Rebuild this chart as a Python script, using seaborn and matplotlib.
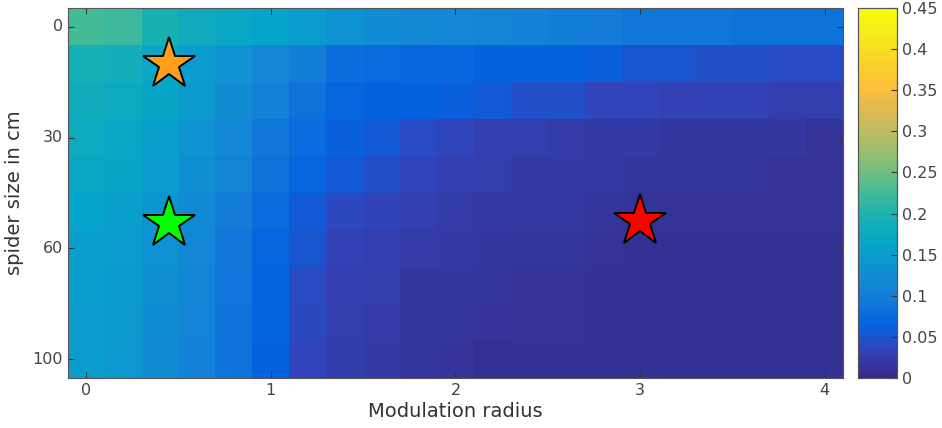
import matplotlib
matplotlib.use("Agg")
import matplotlib.pyplot as plt
from matplotlib.colors import LinearSegmentedColormap
import numpy as np
import pandas as pd
import seaborn as sns

plt.rcParams['font.family'] = ['DejaVu Sans']

# Data
radius = [0.0, 0.2, 0.4, 0.6, 0.8, 1.0, 1.2, 1.4, 1.6, 1.8, 2.0,
          2.2, 2.4, 2.6, 2.8, 3.0, 3.2, 3.4, 3.6, 3.8, 4.0]
sizes = [0, 10, 20, 30, 40, 50, 60, 70, 80, 100]
radius_ticks = [0, 1, 2, 3, 4]
size_ticks = [0, 30, 60, 100]

err = [
    [0.225, 0.22, 0.195, 0.18, 0.17, 0.16, 0.15, 0.135, 0.125, 0.12, 0.115, 0.11, 0.105, 0.10, 0.095, 0.09, 0.09, 0.09, 0.085, 0.085, 0.085],
    [0.19, 0.185, 0.17, 0.15, 0.135, 0.115, 0.10, 0.08, 0.075, 0.07, 0.07, 0.065, 0.065, 0.065, 0.06, 0.05, 0.05, 0.045, 0.045, 0.04, 0.04],
    [0.18, 0.175, 0.165, 0.145, 0.125, 0.105, 0.085, 0.07, 0.065, 0.065, 0.06, 0.055, 0.045, 0.045, 0.035, 0.035, 0.03, 0.03, 0.03, 0.025, 0.025],
    [0.175, 0.17, 0.155, 0.135, 0.115, 0.09, 0.075, 0.06, 0.055, 0.04, 0.035, 0.028, 0.028, 0.022, 0.02, 0.02, 0.016, 0.016, 0.016, 0.016, 0.012],
    [0.17, 0.165, 0.15, 0.13, 0.11, 0.085, 0.07, 0.055, 0.045, 0.035, 0.028, 0.025, 0.02, 0.02, 0.018, 0.015, 0.015, 0.015, 0.015, 0.012, 0.012],
    [0.16, 0.155, 0.14, 0.12, 0.095, 0.075, 0.055, 0.038, 0.032, 0.028, 0.022, 0.018, 0.018, 0.018, 0.015, 0.012, 0.012, 0.012, 0.012, 0.012, 0.012],
    [0.155, 0.15, 0.135, 0.115, 0.09, 0.07, 0.05, 0.03, 0.028, 0.022, 0.02, 0.016, 0.015, 0.015, 0.012, 0.01, 0.01, 0.01, 0.01, 0.01, 0.01],
    [0.152, 0.147, 0.13, 0.11, 0.088, 0.068, 0.04, 0.027, 0.025, 0.016, 0.016, 0.015, 0.012, 0.012, 0.01, 0.01, 0.01, 0.01, 0.01, 0.01, 0.01],
    [0.15, 0.145, 0.128, 0.108, 0.086, 0.066, 0.037, 0.026, 0.022, 0.016, 0.015, 0.014, 0.012, 0.012, 0.01, 0.01, 0.01, 0.01, 0.01, 0.01, 0.01],
    [0.15, 0.143, 0.126, 0.105, 0.085, 0.065, 0.035, 0.024, 0.02, 0.015, 0.014, 0.01, 0.01, 0.01, 0.009, 0.009, 0.009, 0.009, 0.009, 0.009, 0.009],
]

star_radius = [0.45, 0.45, 3.0]
star_size = [10, 53, 52.5]
star_colors = ['#ff9f1c', '#00ff00', '#ff0000']

# MATLAB parula-like colormap
parula_pts = [
    (0.2081, 0.1663, 0.5292), (0.1959, 0.2645, 0.7279), (0.0117, 0.3875, 0.8820),
    (0.0723, 0.4887, 0.8467), (0.0641, 0.5570, 0.8240), (0.0231, 0.6418, 0.7913),
    (0.0843, 0.6928, 0.7062), (0.2586, 0.7317, 0.5954), (0.4871, 0.7491, 0.4840),
    (0.6834, 0.7435, 0.4044), (0.8507, 0.7299, 0.3360), (0.9938, 0.7455, 0.2403),
    (0.9789, 0.8271, 0.1633), (0.9598, 0.9218, 0.0948), (0.9763, 0.9831, 0.0538),
]
parula = LinearSegmentedColormap.from_list('parula', parula_pts)

df = pd.DataFrame(err, index=sizes, columns=radius)

fig = plt.figure(figsize=(9.42, 4.28), dpi=100)
ax = fig.add_axes([0.072, 0.117, 0.823, 0.864])
cax = fig.add_axes([0.911, 0.117, 0.041, 0.864])

sns.heatmap(df, ax=ax, cbar_ax=cax, cmap=parula, vmin=0, vmax=0.45,
            cbar_kws={'ticks': np.arange(0, 0.451, 0.05)})

# ticks in heatmap cell units
col_pos = np.arange(len(radius)) + 0.5
row_pos = np.arange(len(sizes)) + 0.5
ax.set_xticks(np.interp(radius_ticks, radius, col_pos))
ax.set_xticklabels([str(t) for t in radius_ticks], rotation=0)
ax.set_yticks(np.interp(size_ticks, sizes, row_pos))
ax.set_yticklabels([str(t) for t in size_ticks], rotation=0)

ax.tick_params(direction='in', length=4, colors='#333333', labelcolor='#444444',
               labelsize=11.5, top=True, right=True, width=0.8)
ax.set_xlabel('Modulation radius', fontsize=14, color='#333333', labelpad=3)
ax.set_ylabel('spider size in cm', fontsize=14, color='#333333', labelpad=6)
for s in ax.spines.values():
    s.set_visible(True)
    s.set_color('#555555')
    s.set_linewidth(0.8)

# stars
sx = np.interp(star_radius, radius, col_pos)
sy = np.interp(star_size, sizes, row_pos)
for x, y, c in zip(sx, sy, star_colors):
    ax.plot(x, y, marker='*', markersize=39, markerfacecolor=c,
            markeredgecolor='black', markeredgewidth=1.4, linestyle='none')

cax.tick_params(direction='in', length=4, colors='#333333', labelcolor='#444444',
                labelsize=11.5, width=0.8)
cax.set_yticklabels(['0', '0.05', '0.1', '0.15', '0.2', '0.25', '0.3', '0.35', '0.4', '0.45'])
for s in cax.spines.values():
    s.set_visible(True)
    s.set_color('#555555')
    s.set_linewidth(0.8)

fig.savefig('out.png', dpi=100)
